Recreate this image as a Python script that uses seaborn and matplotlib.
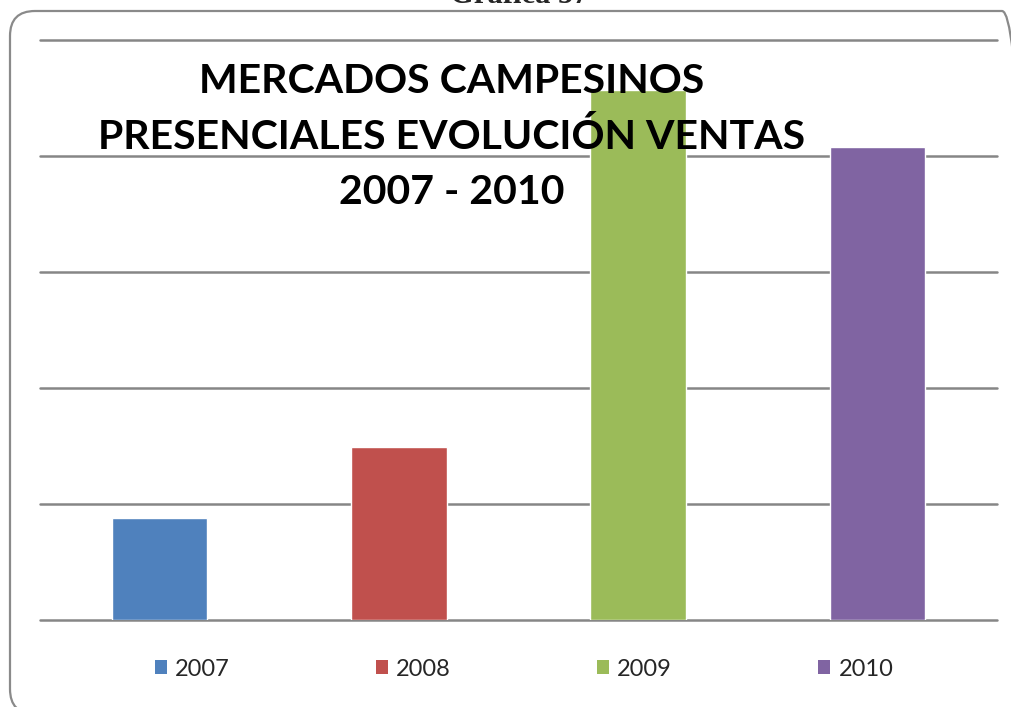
import matplotlib
matplotlib.use("Agg")
import matplotlib.pyplot as plt
from matplotlib.patches import FancyBboxPatch, Patch
import seaborn as sns
import pandas as pd

# Sales evolution of the in-person farmers' markets
years = ["2007", "2008", "2009", "2010"]
sales = [0.88, 1.49, 4.57, 4.08]
colors = ["#4F81BD", "#C0504D", "#9BBB59", "#8064A2"]

title = "MERCADOS CAMPESINOS\nPRESENCIALES EVOLUCIÓN VENTAS\n2007 - 2010"
caption = "Gráfica 57"

sns.set_theme(style="white")
plt.rcParams["font.family"] = ["Lato", "DejaVu Sans"]

W, H = 1012, 707
fig = plt.figure(figsize=(W / 100, H / 100), dpi=100)

# rounded frame around the chart area (inch units, so corners stay circular)
frame = FancyBboxPatch((0.10, -0.07), 10.17, 7.03,
                       boxstyle="round,pad=0,rounding_size=0.25",
                       transform=fig.dpi_scale_trans, fill=False,
                       edgecolor="#8a8a8a", linewidth=1.6)
fig.patches.append(frame)

ax = fig.add_axes([40 / W, (H - 620) / H, (997 - 40) / W, (620 - 40) / H])

df = pd.DataFrame({"year": years, "sales": sales})
sns.barplot(data=df, x="year", y="sales", hue="year", palette=colors,
            dodge=False, width=0.4, saturation=1, ax=ax, zorder=3,
            legend=False)

ax.set_xlim(-0.5, 3.5)
ax.set_ylim(0, 5)
ax.set_yticks(range(0, 6))
ax.yaxis.grid(True, color="#868686", linewidth=1.8)
for gl in ax.get_ygridlines():
    gl.set_clip_on(False)
ax.set_axisbelow(True)
ax.tick_params(left=False, bottom=False, labelleft=False, labelbottom=False)
ax.set_xlabel("")
ax.set_ylabel("")
for s in ax.spines.values():
    s.set_visible(False)

handles = [Patch(facecolor=c, edgecolor="none", label=y) for y, c in zip(years, colors)]
fig.legend(handles=handles, loc="center",
           bbox_to_anchor=(524 / W, 1 - 669 / H), bbox_transform=fig.transFigure,
           ncol=4, frameon=False, fontsize=17,
           handlelength=0.51, handleheight=0.51, handletextpad=0.34,
           columnspacing=6.2)

fig.text(452 / W, 1 - 137 / H, title, ha="center", va="center",
         fontsize=29.5, fontweight="bold", color="black", linespacing=1.59,
         zorder=10)

fig.text(519 / W, 1 - 3 / H, caption, ha="center", va="baseline",
         fontsize=22, fontweight="bold", family="Liberation Serif")

fig.savefig("out.png", dpi=100)
